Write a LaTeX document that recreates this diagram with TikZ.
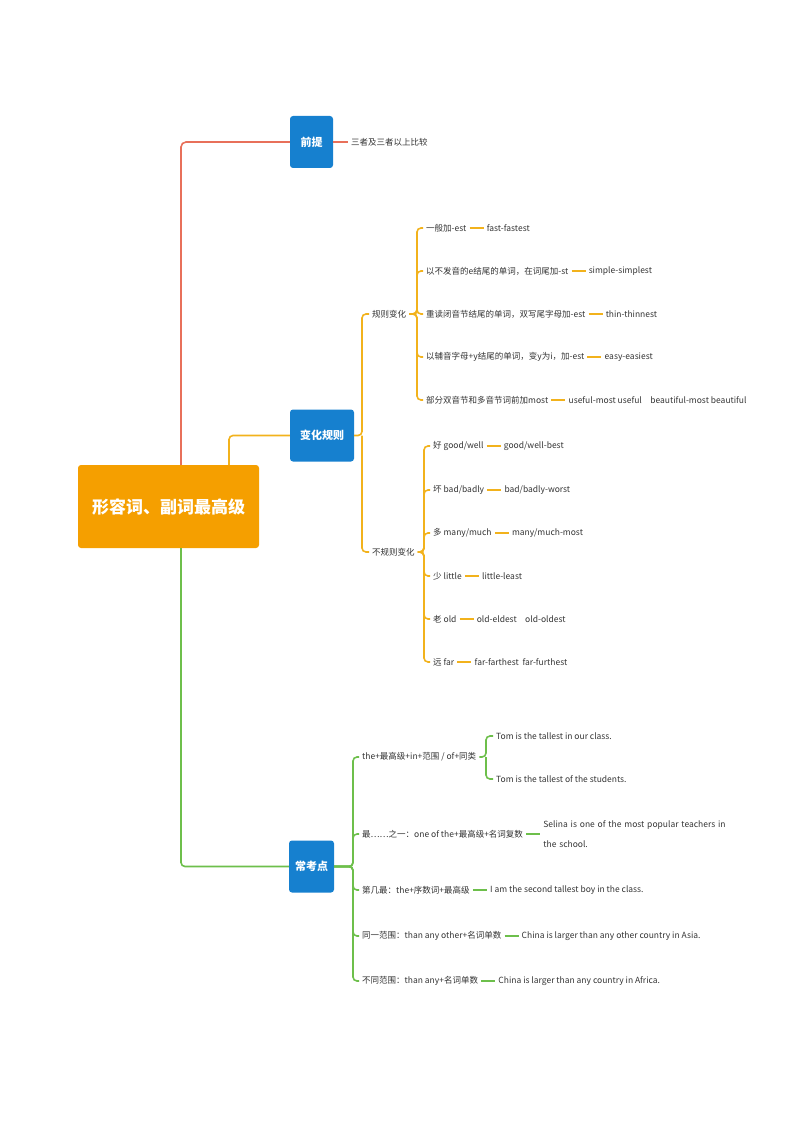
\documentclass[tikz,border=0pt]{standalone}
\usepackage{fontspec}
\setmainfont{Noto Sans CJK SC}
\usetikzlibrary{positioning}
\definecolor{mainorange}{HTML}{F59F00}
\definecolor{topicblue}{HTML}{1680CF}
\definecolor{linered}{HTML}{E8705A}
\definecolor{lineyellow}{HTML}{F2B21C}
\definecolor{linegreen}{HTML}{6DBF4B}
\tikzset{
  rootbox/.style={fill=mainorange, rounded corners=3pt, text=white, font=\fontsize{17}{20}\selectfont\bfseries, minimum width=181pt, minimum height=83pt},
  topicbox/.style={fill=topicblue, rounded corners=3pt, text=white, font=\fontsize{11}{13}\selectfont\bfseries, minimum height=52pt, inner sep=6pt},
  txt/.style={anchor=west, inner xsep=3pt, inner ysep=1pt, font=\fontsize{8.5}{10}\selectfont, text=black!80},
  lnr/.style={draw=linered, line width=1.6pt, rounded corners=5pt},
  lny/.style={draw=lineyellow, line width=1.6pt, rounded corners=4pt},
  lng/.style={draw=linegreen, line width=1.6pt, rounded corners=4pt}
}
\begin{document}
\begin{tikzpicture}[x=1pt,y=-1pt]
\useasboundingbox (0,0) rectangle (794,1123);

%% main topics
\node[rootbox] (root) at (168.5,506.5) {形容词、副词最高级};
\node[topicbox, minimum width=43pt] (prem) at (311.5,142) {前提};
\node[topicbox, minimum width=64pt] (rule) at (322,435.5) {变化规则};
\node[topicbox, minimum width=43pt] (exam) at (311.5,866.5) {常考点};

\draw[lnr] (root.north -| 181,0) |- (prem.west);
\draw[lny] (root.north -| 229,0) |- (rule.west);
\draw[lng] (root.south -| 181,0) |- (exam.west);

%% 前提
\node[txt] (p1) at (348,142) {三者及三者以上比较};
\draw[draw=linered, line width=1.6pt] (prem.east) -- (p1.west);

%% 变化规则
\node[txt] (reg) at (369,314) {规则变化};
\node[txt] (irr) at (369,552) {不规则变化};
\draw[lny] (rule.east) -- (362,435.5) |- (reg.west);
\draw[lny] (362,435.5) |- (irr.west);

\foreach \nm/\y/\a/\b in {
  r1/228/{一般加-est}/{fast-fastest},
  r2/271/{以不发音的e结尾的单词，在词尾加-st}/{simple-simplest},
  r3/314/{重读闭音节结尾的单词，双写尾字母加-est}/{thin-thinnest},
  r4/357/{以辅音字母+y结尾的单词，变y为i，加-est}/{easy-easiest},
  r5/400/{部分双音节和多音节词前加most}/{useful-most useful\quad beautiful-most beautiful}}{
  \node[txt] (\nm) at (423,\y) {\a};
  \node[txt, right=14pt of \nm] (\nm x) {\b};
  \draw[lny] (reg.east) -- (417,314) |- (\nm.west);
  \draw[lny] (\nm.east) -- (\nm x.west);
}

\foreach \nm/\y/\a/\b in {
  i1/446/{好 good/well}/{good/well-best},
  i2/490/{坏 bad/badly}/{bad/badly-worst},
  i3/533/{多 many/much}/{many/much-most},
  i4/576/{少 little}/{little-least},
  i5/619/{老 old}/{old-eldest\quad old-oldest},
  i6/662/{远 far}/{far-farthest\ \ far-furthest}}{
  \node[txt] (\nm) at (430,\y) {\a};
  \node[txt, right=14pt of \nm] (\nm x) {\b};
  \draw[lny] (irr.east) -- (424,552) |- (\nm.west);
  \draw[lny] (\nm.east) -- (\nm x.west);
}

%% 常考点
\foreach \nm/\y/\a in {
  e1/757/{the+最高级+in+范围 / of+同类},
  e2/834/{最……之一：one of the+最高级+名词复数},
  e3/890/{第几最：the+序数词+最高级},
  e4/936/{同一范围：than any other+名词单数},
  e5/981/{不同范围：than any+名词单数}}{
  \node[txt] (\nm) at (359,\y) {\a};
  \draw[lng] (exam.east) -- (353,866.5) |- (\nm.west);
}

\node[txt] (e1a) at (493,736) {Tom is the tallest in our class.};
\node[txt] (e1b) at (493,779) {Tom is the tallest of the students.};
\draw[lng] (e1.east) -- (486,757) |- (e1a.west);
\draw[lng] (486,757) |- (e1b.west);
\node[txt, right=14pt of e2, align=left, text width=185pt, font=\fontsize{8.5}{20}\selectfont] (e2x) {Selina is one of the most popular teachers in the school.};
\node[txt, right=14pt of e3] (e3x) {I am the second tallest boy in the class.};
\node[txt, right=14pt of e4] (e4x) {China is larger than any other country in Asia.};
\node[txt, right=14pt of e5] (e5x) {China is larger than any country in Africa.};
\foreach \nm in {e2,e3,e4,e5}{
  \draw[lng] (\nm.east) -- (\nm x.west);
}
\end{tikzpicture}
\end{document}
